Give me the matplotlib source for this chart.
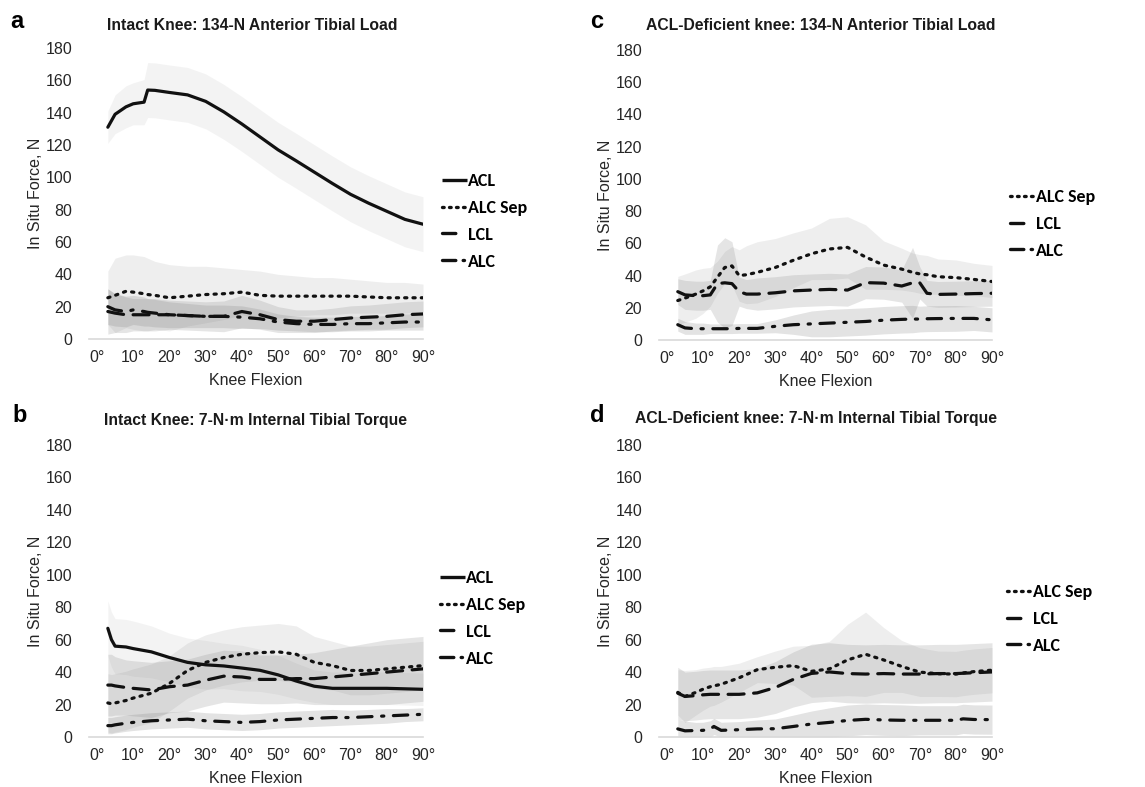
import numpy as np
import matplotlib
matplotlib.use("Agg")
import matplotlib.pyplot as plt
from matplotlib import font_manager as fm
from matplotlib.lines import Line2D

# Knee flexion angles (deg) sampled for each panel
DEG_A = [3, 5, 8, 10, 13, 14, 16, 20, 25, 30, 35, 40, 45, 50, 55, 60, 65, 70, 75, 80, 85, 90]
DEG_B = [3, 4, 5, 8, 10, 15, 20, 25, 30, 35, 40, 45, 50, 55, 60, 65, 70, 75, 80, 85, 90]
DEG_C = [3, 5, 8, 10, 12, 14, 16, 18, 20, 22, 25, 30, 35, 40, 45, 50, 55, 60, 65, 68, 70, 72, 75, 80, 85, 90]
DEG_D = [3, 5, 8, 10, 12, 13, 15, 20, 25, 30, 35, 40, 45, 50, 55, 60, 65, 70, 75, 80, 82, 85, 90]

# a: intact knee, anterior tibial load (mean, SD)
ACL_A = [131, 139, 143.6, 145.5, 146.5, 154, 153.8, 152.5, 151, 147, 140.5, 133, 125, 117, 110.2,
         103.2, 96.2, 89.5, 84, 79, 74, 71]
ACL_A_SD = [10, 12, 13, 13, 14, 17, 17, 17, 17, 17, 17, 17, 17, 17, 17, 17, 17, 17, 17, 17, 17, 17]
SEP_A = [25.5, 27, 29.5, 29, 28, 27.5, 27, 25.5, 26.5, 27.5, 28, 29, 27, 26.5, 26.5, 26.5, 26.5, 26.5,
         26, 25.5, 25.5, 25.5]
SEP_A_SD = [16.5, 23, 22.5, 23, 23, 22.5, 21, 20.5, 18.5, 17.5, 16, 14, 15, 13.5, 12.5, 11.5, 11.5,
            10.5, 10, 9.5, 9.5, 8.5]
LCL_A = [17, 16, 15, 15, 15, 15, 15, 15, 14.5, 14, 14, 17, 15, 12, 11, 11, 12, 13, 13.5, 14, 15, 15.5]
LCL_A_SD = [14, 12, 11, 10, 10, 10, 10, 9, 9, 9, 9.5, 10, 9, 8, 7, 7, 7, 7.5, 7.5, 8, 8, 8]
ALC_A = [20, 18, 17, 18, 17, 16.5, 16, 15, 14.5, 14, 14, 13.5, 12.5, 10.5, 9.5, 9, 9, 9.5, 9.5, 10,
         10.5, 10.5]
ALC_A_SD = [11, 10, 9.5, 9, 9, 8.5, 8.5, 8, 7.5, 7, 7, 7, 6, 5, 4.5, 4.5, 4.5, 4.5, 4.5, 4.5, 5, 5]

# b: intact knee, internal tibial torque
ACL_B = [67, 60, 56, 55.5, 54.5, 52.5, 49, 46, 44.5, 43.8, 42.5, 41.1, 38.3, 34.5, 31.3, 30, 30, 30,
         30, 29.7, 29.4]
ACL_B_SD = [17, 17, 17, 17, 17, 16, 15, 15, 15, 14, 14, 13, 12, 11, 10, 10, 10, 10, 10, 10, 10]
SEP_B = [21, 20.5, 21, 22.5, 24, 27, 33, 41, 46, 49, 51, 52, 52.5, 51, 46, 44, 41, 41, 42, 43, 44]
SEP_B_SD = [18, 18, 18, 18, 18, 18, 17, 17, 17, 17, 17, 17, 17.5, 17.5, 16, 15, 15, 15, 15, 15, 15]
LCL_B = [32, 32, 31.5, 30.5, 30, 29, 31, 32, 35, 37.5, 37, 35.5, 35.5, 36, 36, 37, 38, 39, 40, 41, 42]
LCL_B_SD = [19, 19, 18, 17, 17, 17, 16, 16, 16, 16, 16, 15, 15, 15, 16, 17, 18, 19, 20, 20, 20]
ALC_B = [7, 7, 7.5, 8.5, 9, 10, 10.5, 11, 10, 9.5, 9, 9.5, 10.5, 11, 11.5, 12, 12, 12.5, 13, 13.5, 14]
ALC_B_SD = [5, 5, 5, 5, 5, 5, 5, 5, 5, 5, 5, 5, 5, 5, 5, 5, 4.5, 4.5, 4.5, 4, 4]

# c: ACL-deficient knee, anterior tibial load
SEP_C = [24.5, 26, 28.5, 30.5, 33, 39, 45, 46, 40, 40.5, 42, 45, 49.5, 53.5, 56.5, 57.5, 51.5, 46.5,
         44, 42, 41, 40.5, 39.3, 38.7, 37.6, 36.3]
SEP_C_SD = [15, 15, 15, 14, 12, 10, 10, 12, 16, 18, 19, 18, 17, 16, 19, 19, 20, 15, 13, 12, 12, 12,
            11, 11, 10, 10]
LCL_C = [30, 28, 27.5, 27.5, 28, 35, 35.5, 35, 30, 28.5, 28.5, 29.3, 30.5, 31, 31.4, 31, 35.6, 35.3,
         33.5, 35.5, 35.5, 29, 28.3, 28.5, 28.8, 29]
LCL_C_SD = [8, 9, 9, 9, 9, 24, 28, 26, 9, 9, 10, 10, 10, 10, 10, 10, 10, 10, 10, 22, 10, 8, 8, 8, 8, 8]
ALC_C = [9.5, 7.5, 7, 7, 7, 7, 7, 7, 7.2, 7.2, 7.2, 8.5, 9.5, 10, 10.5, 11, 11.5, 12.3, 12.8, 13, 13,
         13.2, 13.3, 13.4, 13.4, 12.5]
ALC_C_SD = [4, 4, 3.5, 3.5, 3, 3, 3, 3, 3, 3, 3, 4, 6, 8, 8.5, 8.5, 8.5, 8.5, 8.5, 8.5, 8, 8, 8, 8,
            7.5, 7.5]

# d: ACL-deficient knee, internal tibial torque
SEP_D = [27.5, 25, 27.5, 29.5, 31, 31.5, 32.5, 36.5, 41.5, 43, 44, 40.5, 42, 47.5, 51, 47.5, 43.5, 40,
         39, 38.8, 39.5, 40.3, 41.2]
SEP_D_SD = [14, 16, 14, 13, 12, 12, 11, 9, 8, 10, 12, 16, 17, 22, 26, 20, 16, 15, 14, 14, 14, 14, 14]
LCL_D = [27, 25, 25.5, 26, 26.3, 26.3, 26.3, 26.3, 27.2, 30.5, 35.5, 39.2, 40.1, 39.1, 38.8, 39.1, 38.8,
         38.8, 39.1, 39.1, 39.3, 39.6, 40.1]
LCL_D_SD = [16, 15, 15, 15, 15, 15, 15, 15, 15, 16, 17, 18, 18, 18, 18, 18, 18, 18, 18, 18, 18, 18, 18]
ALC_D = [5, 3.8, 4, 4.1, 5, 6.5, 4.1, 4.5, 5, 5.1, 6.5, 8, 9, 10.2, 10.9, 10.5, 10.3, 10.3, 10.3, 10.3,
         11.2, 10.8, 10.7]
ALC_D_SD = [6, 6, 5, 5, 5, 5, 5, 5, 5.5, 6, 7, 8, 9, 9.5, 9.5, 9.5, 9.5, 9, 9, 9, 9, 9, 9]

TICKS = [0, 10, 20, 30, 40, 50, 60, 70, 80, 90]

available = {f.name for f in fm.fontManager.ttflist}
LEG_FONT = "Carlito" if "Carlito" in available else "Lato"
plt.rcParams["font.family"] = ["Liberation Sans", "DejaVu Sans"]

# line style on the plot, line style in the legend, band opacity
STYLES = {
    "ACL": dict(line=dict(linestyle="-"), key=dict(linestyle="-"), alpha=0.09),
    "ALC Sep": dict(line=dict(dashes=(0.7, 1.9)), key=dict(dashes=(0.5, 1.6)), alpha=0.13),
    "LCL": dict(line=dict(dashes=(5, 3)), key=dict(dashes=(4, 10)), alpha=0.2),
    "ALC": dict(line=dict(dashes=(4.5, 3, 0.7, 3)), key=dict(dashes=(4, 2.2, 0.4, 10)), alpha=0.22),
}

fig = plt.figure(figsize=(11.45, 7.87), dpi=100)
W, H = 1145, 787


def px_axes(left, right, y0, y180):
    return fig.add_axes([left / W, (H - y0) / H, (right - left) / W, (y0 - y180) / H])


def draw_panel(ax, deg, series, leg_x, leg_y):
    deg = np.array(deg)
    for name, mean, sd in series:
        m = np.array(mean)
        s = np.array(sd)
        ax.fill_between(deg, np.clip(m - s, 0, None), m + s, color="#808080",
                        alpha=STYLES[name]["alpha"], linewidth=0)
    handles = []
    for name, mean, sd in series:
        ax.plot(deg, mean, color="#111111", lw=2.3, dash_capstyle="round",
                solid_capstyle="round", **STYLES[name]["line"])
        handles.append(Line2D([], [], color="#111111", lw=2.4, dash_capstyle="round",
                              solid_capstyle="butt", label=name, **STYLES[name]["key"]))
    ax.set_xlim(-2.2, 90)
    ax.set_ylim(0, 180)
    ax.set_yticks(range(0, 181, 20))
    ax.set_xticks(TICKS)
    ax.set_xticklabels([f"{t}°" for t in TICKS])
    for sp in ["top", "right", "left"]:
        ax.spines[sp].set_visible(False)
    ax.spines["bottom"].set_color("#d9d9d9")
    ax.spines["bottom"].set_linewidth(1.2)
    ax.tick_params(axis="both", length=0, labelsize=11.5, colors="#262626")
    ax.tick_params(axis="y", pad=12)
    ax.tick_params(axis="x", pad=8)
    ax.set_xlabel("Knee Flexion", fontsize=11.5, color="#262626", labelpad=6)
    ax.set_ylabel("In Situ Force, N", fontsize=11.5, color="#262626", labelpad=2)
    ax.set_facecolor("none")
    ax.legend(handles=handles, loc="upper left", bbox_to_anchor=(leg_x / W, 1 - leg_y / H),
              bbox_transform=fig.transFigure, frameon=False, borderpad=0,
              handlelength=1.4, handletextpad=0.05, labelspacing=0.6,
              prop=dict(family=LEG_FONT, weight="bold", size=13))


ax_a = px_axes(89, 423, 339, 48)
draw_panel(ax_a, DEG_A, [("ACL", ACL_A, ACL_A_SD), ("ALC Sep", SEP_A, SEP_A_SD),
                         ("LCL", LCL_A, LCL_A_SD), ("ALC", ALC_A, ALC_A_SD)], 433, 164)

ax_b = px_axes(89, 423, 737, 445)
draw_panel(ax_b, DEG_B, [("ACL", ACL_B, ACL_B_SD), ("ALC Sep", SEP_B, SEP_B_SD),
                         ("LCL", LCL_B, LCL_B_SD), ("ALC", ALC_B, ALC_B_SD)], 431, 561)

ax_c = px_axes(659, 992, 340, 50)
draw_panel(ax_c, DEG_C, [("ALC Sep", SEP_C, SEP_C_SD), ("LCL", LCL_C, LCL_C_SD),
                         ("ALC", ALC_C, ALC_C_SD)], 1001, 180)

ax_d = px_axes(659, 992, 737, 445)
draw_panel(ax_d, DEG_D, [("ALC Sep", SEP_D, SEP_D_SD), ("LCL", LCL_D, LCL_D_SD),
                         ("ALC", ALC_D, ALC_D_SD)], 998, 575)

titles = [
    ("Intact Knee: 134-N Anterior Tibial Load", 252, 26),
    ("Intact Knee: 7-N·m Internal Tibial Torque", 256, 420),
    ("ACL-Deficient knee: 134-N Anterior Tibial Load", 821, 26),
    ("ACL-Deficient knee: 7-N·m Internal Tibial Torque", 816, 419),
]
for txt, x, y in titles:
    fig.text(x / W, 1 - y / H, txt, ha="center", va="center", fontsize=11.3,
             fontweight="bold", color="#1a1a1a")

for letter, x, y in [("a", 17, 22), ("b", 20, 416), ("c", 597, 22), ("d", 597, 416)]:
    fig.text(x / W, 1 - y / H, letter, ha="center", va="center", fontsize=17,
             fontweight="bold", color="black")

fig.savefig("out.png", dpi=100)
